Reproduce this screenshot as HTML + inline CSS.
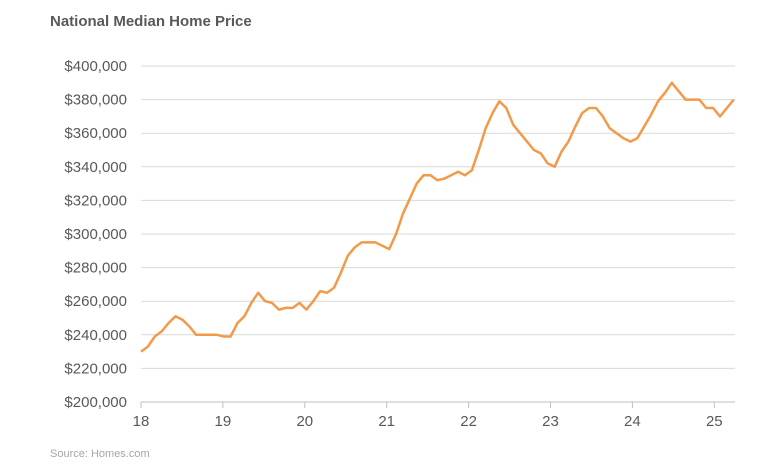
<!DOCTYPE html>
<html><head><meta charset="utf-8"><style>
body{margin:0;background:#fff;font-family:"Liberation Sans",Arial,sans-serif;}
svg{display:block}
</style></head><body>
<svg width="780" height="470" id="chart">
<text x="50" y="26" font-size="15" font-weight="bold" fill="#595959">National Median Home Price</text>
<text x="50" y="457" font-size="11" fill="#a6a6a6">Source: Homes.com</text>
<g id="grid"></g><g id="axes"></g><g id="series"></g>
</svg>
<script>
const yTicks=[200000,220000,240000,260000,280000,300000,320000,340000,360000,380000,400000];
const xTickLabels=["18","19","20","21","22","23","24","25"];
const startYear=2018;
const prices=[230,233,239,242,247,251,249,245,240,240,240,240,
239,239,247,251,259,265,260,259,255,256,256,259,
255,260,266,265,268,277,287,292,295,295,295,293,
291,300,312,321,330,335,335,332,333,335,337,335,
338,350,363,372,379,375,365,360,355,350,348,342,
340,349,355,364,372,375,375,370,363,360,357,355,
357,364,371,379,384,390,385,380,380,380,375,375,
370,375,380];
const NS="http://www.w3.org/2000/svg";
const x0=141,xPerYear=81.9,y0=402,yTop=66;
const X=t=>x0+(t-startYear)*xPerYear;
const Y=v=>y0-(v-200000)/200000*(y0-yTop);
function mk(tag,attrs,parent){const e=document.createElementNS(NS,tag);for(const k in attrs)e.setAttribute(k,attrs[k]);parent.appendChild(e);return e;}
const grid=document.getElementById('grid'),axes=document.getElementById('axes'),series=document.getElementById('series');
yTicks.forEach(v=>{
  if(v>200000){const l=mk('line',{x1:x0,x2:735,y1:Y(v),y2:Y(v),stroke:'#d9d9d9','stroke-width':1},grid);
  
  }
  const t=mk('text',{x:127,y:Y(v)+5,'text-anchor':'end','font-size':15,fill:'#595959'},axes);
  t.textContent='$'+v.toLocaleString('en-US');
  
  
});
const ax=mk('line',{x1:x0,x2:735,y1:y0,y2:y0,stroke:'#bfbfbf','stroke-width':1},axes);


xTickLabels.forEach((lab,i)=>{
  const x=X(startYear+i);
  const tk=mk('line',{x1:x,x2:x,y1:y0,y2:y0+6,stroke:'#bfbfbf'},axes);
  
  
  const t=mk('text',{x:x,y:426,'text-anchor':'middle','font-size':15,fill:'#595959'},axes);
  t.textContent=lab;
  
  
});
const pts=prices.map((p,i)=>X(startYear+i/12*1.01).toFixed(1)+','+Y(p*1000).toFixed(1)).join(' ');
const pl=mk('polyline',{points:pts,fill:'none',stroke:'#f39a4a','stroke-width':2.5,'stroke-linejoin':'round'},series);


</script>
</body></html>
